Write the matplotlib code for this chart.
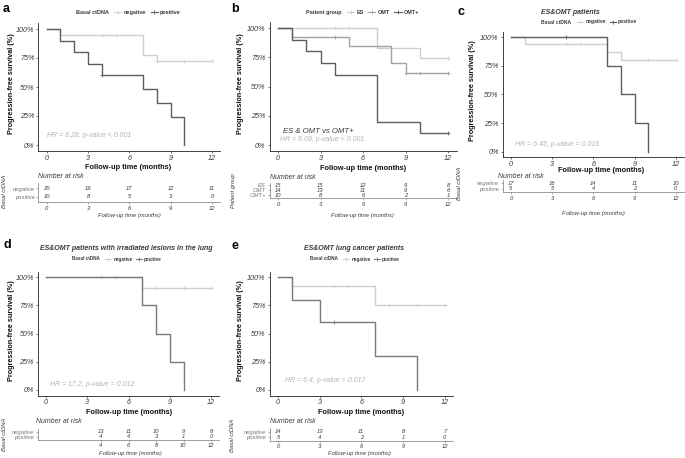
import matplotlib
matplotlib.use('Agg')
import matplotlib.pyplot as plt
from matplotlib.lines import Line2D
from matplotlib.text import Annotation

plt.rcParams['font.family'] = ['Liberation Sans', 'DejaVu Sans']

# ---- data ----
risk_times = [0, 3, 6, 9, 12]
risk_times_d = [4, 6, 8, 10, 12]

# a: all patients, basal ctDNA
a_neg_t = [0, 1, 7, 8, 12]
a_neg_s = [1.0, 0.95, 0.78, 0.724, 0.724]
a_neg_cens = [4, 5, 8, 10, 12]
a_pos_t = [0, 1, 2, 3, 4, 7, 8, 9, 10]
a_pos_s = [1.0, 0.9, 0.8, 0.7, 0.6, 0.48, 0.36, 0.24, 0.0]
a_pos_cens = [4]
a_risk_neg = [20, 19, 17, 12, 11]
a_risk_pos = [10, 8, 5, 3, 0]

# b: patient group
b_es_t = [0, 7, 10, 12]
b_es_s = [1.0, 0.83, 0.743, 0.743]
b_es_cens = [4, 5, 12]
b_omt_t = [0, 1, 5, 8, 9, 12]
b_omt_s = [1.0, 0.923, 0.849, 0.70, 0.62, 0.62]
b_omt_cens = [4, 9, 10, 12]
b_omtp_t = [0, 1, 2, 3, 4, 7, 10, 12]
b_omtp_s = [1.0, 0.9, 0.8, 0.7, 0.6, 0.2, 0.1, 0.1]
b_omtp_cens = [12]
b_risk_es = [15, 15, 12, 9, 8]
b_risk_omt = [14, 13, 11, 9, 6]
b_risk_omtp = [10, 8, 6, 2, 1]

# c: ES&OMT patients
c_neg_t = [0, 1, 7, 8, 12]
c_neg_s = [1.0, 0.942, 0.869, 0.80, 0.80]
c_neg_cens = [4, 5, 10, 12]
c_pos_t = [0, 7, 8, 9, 10]
c_pos_s = [1.0, 0.75, 0.5, 0.25, 0.0]
c_pos_cens = [4]
c_risk_neg = [17, 16, 14, 11, 10]
c_risk_pos = [5, 5, 4, 2, 0]

# d: ES&OMT, irradiated lung lesions
d_neg_t = [0, 7, 12]
d_neg_s = [1.0, 0.909, 0.909]
d_neg_cens = [4, 5, 8, 10, 12]
d_pos_t = [0, 7, 8, 9, 10]
d_pos_s = [1.0, 0.75, 0.5, 0.25, 0.0]
d_pos_cens = []
d_risk_neg = [13, 11, 10, 9, 8]
d_risk_pos = [4, 4, 3, 1, 0]

# e: ES&OMT lung cancer
e_neg_t = [0, 1, 7, 12]
e_neg_s = [1.0, 0.923, 0.752, 0.752]
e_neg_cens = [4, 5, 8, 10, 12]
e_pos_t = [0, 1, 3, 7, 10]
e_pos_s = [1.0, 0.8, 0.6, 0.3, 0.0]
e_pos_cens = [4]
e_risk_neg = [14, 13, 11, 8, 7]
e_risk_pos = [5, 4, 2, 1, 0]

NEG = '#cfcfcf'
POS = '#5e5e5e'
MID = '#a3a3a3'
TXT = '#3a3a3a'
HRC = '#b3b3b3'

W, H = 685, 458
fig = plt.figure(figsize=(W / 100, H / 100), dpi=100)


def axes_px(left, top, right, bottom):
    return fig.add_axes([left / W, 1 - bottom / H, (right - left) / W, (bottom - top) / H])


def ftext(x, y, s, **kw):
    kw.setdefault('color', TXT)
    return fig.text(x / W, 1 - y / H, s, **kw)


def km(ax, t, s, cens, color):
    ax.step(t, s, where='post', color=color, lw=1.0)
    cy = [s[max(i for i in range(len(t)) if t[i] <= c)] for c in cens]
    ax.plot(cens, cy, ls='none', marker='+', ms=3, mew=0.6, color=color)


def main_axes(box, xlab, ylab):
    ax = axes_px(*box)
    ax.set_xlim(-0.6, 12.6)
    ax.set_ylim(-0.05, 1.05)
    ax.set_xticks([0, 3, 6, 9, 12])
    ax.set_yticks([0, 0.25, 0.5, 0.75, 1.0])
    ax.set_yticklabels(['0%', '25%', '50%', '75%', '100%'])
    for sp in ['top', 'right']:
        ax.spines[sp].set_visible(False)
    for sp in ['left', 'bottom']:
        ax.spines[sp].set_color('#222222')
        ax.spines[sp].set_linewidth(0.6)
    ax.tick_params(length=1.5, width=0.5, labelsize=5.2, pad=1.3, colors=TXT)
    for lab in ax.get_xticklabels() + ax.get_yticklabels():
        lab.set_style('italic')
    ftext(xlab[0], xlab[1], 'Follow-up time (months)', fontsize=5.3,
          fontweight='bold', ha='center', va='center', color='#111111')
    ftext(ylab[0], ylab[1], 'Progression-free survival (%)', fontsize=5.2,
          fontweight='bold', ha='center', va='center', rotation=90, color='#111111')
    return ax


def risk_table(box, times, rows, names, colors, title_xy, ylab, ylab_xy, xlab_xy, xticks):
    ax = axes_px(*box)
    n = len(rows)
    ax.set_xlim(-0.6, 12.6)
    ax.set_ylim(0.4, n + 0.6)
    for k, vals in enumerate(rows):
        yk = n - k
        for t, v in zip(times, vals):
            ax.text(t, yk, str(v), ha='center', va='center', fontsize=4.2,
                    style='italic', color=TXT)
    ax.set_yticks([n - k for k in range(n)])
    ax.set_yticklabels(names)
    for lab, c in zip(ax.get_yticklabels(), colors):
        lab.set_color(c)
        lab.set_style('italic')
    ax.set_xticks(xticks)
    for sp in ['top', 'right']:
        ax.spines[sp].set_visible(False)
    for sp in ['left', 'bottom']:
        ax.spines[sp].set_color('#777777')
        ax.spines[sp].set_linewidth(0.5)
    ax.tick_params(length=1.5, width=0.4, labelsize=4.2, pad=1.2, colors='#777777')
    ax.tick_params(axis='x', labelcolor=TXT)
    for lab in ax.get_xticklabels():
        lab.set_style('italic')
    ftext(title_xy[0], title_xy[1], 'Number at risk', fontsize=5, style='italic',
          ha='left', va='center')
    ftext(ylab_xy[0], ylab_xy[1], ylab, fontsize=4.2, style='italic', rotation=90,
          ha='center', va='center')
    ftext(xlab_xy[0], xlab_xy[1], 'Follow-up time (months)', fontsize=4.2,
          style='italic', ha='center', va='center')
    return ax


def legend(cx, cy, title, labels, colors, fs):
    handles = [Line2D([0], [0], color=c, lw=0.8, marker='+', ms=3, mew=0.6)
               for c in colors]
    leg = fig.legend(handles, labels, loc='center', bbox_to_anchor=(cx / W, 1 - cy / H),
                     ncol=len(labels), frameon=False, fontsize=fs, handlelength=1.3,
                     handletextpad=0.4, columnspacing=0.8, borderpad=0, borderaxespad=0)
    for tx in leg.get_texts():
        tx.set_fontweight('bold')
        tx.set_color(TXT)
    ann = Annotation(title, xy=(0, 0.5), xycoords=leg, xytext=(-4, 0),
                     textcoords='offset points', fontsize=fs, fontweight='bold',
                     ha='right', va='center', color=TXT, annotation_clip=False)
    fig.add_artist(ann)
    return leg


# ---------------- panel a ----------------
ftext(3, 9, 'a', fontsize=9, fontweight='bold', ha='left', va='center', color='black')
legend(147.5, 12.3, 'Basal ctDNA', ['negative', 'positive'], [NEG, POS], 4)
ax = main_axes((38.4, 23.2, 220.3, 150.8), (128, 167.3), (12, 84))
km(ax, a_neg_t, a_neg_s, a_neg_cens, NEG)
km(ax, a_pos_t, a_pos_s, a_pos_cens, POS)
ax.text(0, 0.08, 'HR = 6.28, p-value < 0.001', fontsize=5, style='italic', color=HRC,
        ha='left', va='center')
risk_table((38.4, 183.4, 220.3, 202.1), risk_times, [a_risk_neg, a_risk_pos],
           ['negative', 'positive'], [NEG, POS], (38, 176), 'Basal ctDNA', (5, 191),
           (129, 216), risk_times)

# ---------------- panel b ----------------
ftext(231, 9, 'b', fontsize=9, fontweight='bold', ha='left', va='center', color='black')
legend(383, 12.3, 'Patient group', ['ES', 'OMT', 'OMT+'], [NEG, MID, POS], 4)
ax = main_axes((269.5, 22.2, 456.5, 150.9), (363, 168.3), (240, 84))
km(ax, b_es_t, b_es_s, b_es_cens, NEG)
km(ax, b_omt_t, b_omt_s, b_omt_cens, MID)
km(ax, b_omtp_t, b_omtp_s, b_omtp_cens, POS)
ax.text(2.87, 0.115, 'ES & OMT vs OMT+', fontsize=5.6, style='italic', color=TXT,
        ha='center', va='center')
ax.text(0.15, 0.05, 'HR = 6.09, p-value < 0.001', fontsize=5, style='italic', color=HRC,
        ha='left', va='center')
risk_table((269.5, 182.6, 456.5, 198.0), risk_times, [b_risk_es, b_risk_omt, b_risk_omtp],
           ['ES', 'OMT', 'OMT+'], [NEG, MID, POS], (270, 177.7), 'Patient group', (233, 191),
           (362, 215.7), risk_times)

# ---------------- panel c ----------------
ftext(458, 12, 'c', fontsize=9, fontweight='bold', ha='left', va='center', color='black')
ftext(570, 12, 'ES&OMT patients', fontsize=5, fontweight='bold', style='italic',
      ha='center', va='center')
legend(607, 22, 'Basal ctDNA', ['negative', 'positive'], [NEG, POS], 3.6)
ax = main_axes((502.7, 31.6, 684, 157.4), (601, 170.7), (472, 91))
km(ax, c_neg_t, c_neg_s, c_neg_cens, NEG)
km(ax, c_pos_t, c_pos_s, c_pos_cens, POS)
ax.text(0.3, 0.06, 'HR = 6.45, p-value = 0.016', fontsize=5, style='italic', color=HRC,
        ha='left', va='center')
risk_table((502.7, 180.2, 684, 192.0), risk_times, [c_risk_neg, c_risk_pos],
           ['negative', 'positive'], [NEG, POS], (498, 176.7), 'Basal ctDNA', (460, 183),
           (593, 214), risk_times)

# ---------------- panel d ----------------
ftext(3, 245, 'd', fontsize=9, fontweight='bold', ha='left', va='center', color='black')
ftext(126, 249, 'ES&OMT patients with irradiated lesions in the lung', fontsize=5,
      fontweight='bold', style='italic', ha='center', va='center')
legend(133.5, 259, 'Basal ctDNA', ['negative', 'positive'], [NEG, '#7a7a7a'], 3.3)
ax = main_axes((37.75, 271.7, 219.25, 395.6), (128.8, 412.3), (12, 331))
km(ax, d_neg_t, d_neg_s, d_neg_cens, NEG)
km(ax, d_pos_t, d_pos_s, d_pos_cens, '#7a7a7a')
ax.text(0.3, 0.05, 'HR = 17.2, p-value = 0.012', fontsize=5, style='italic', color=HRC,
        ha='left', va='center')
risk_table((37.75, 428.7, 219.25, 439.7), risk_times_d, [d_risk_neg, d_risk_pos],
           ['negative', 'positive'], [NEG, POS], (36, 421.7), 'Basal ctDNA', (5, 434),
           (130.5, 453.3), risk_times_d)

# ---------------- panel e ----------------
ftext(231, 246, 'e', fontsize=9, fontweight='bold', ha='left', va='center', color='black')
ftext(354, 249, 'ES&OMT lung cancer patients', fontsize=5,
      fontweight='bold', style='italic', ha='center', va='center')
legend(371.5, 259, 'Basal ctDNA', ['negative', 'positive'], [NEG, '#7a7a7a'], 3.3)
ax = main_axes((269.7, 271.7, 453, 395.6), (360.7, 412.3), (240, 331))
km(ax, e_neg_t, e_neg_s, e_neg_cens, NEG)
km(ax, e_pos_t, e_pos_s, e_pos_cens, '#7a7a7a')
ax.text(0.5, 0.08, 'HR = 6.4, p-value = 0.017', fontsize=5, style='italic', color=HRC,
        ha='left', va='center')
risk_table((269.7, 428.3, 453, 440.7), risk_times, [e_risk_neg, e_risk_pos],
           ['negative', 'positive'], [NEG, POS], (270, 421.7), 'Basal ctDNA', (233, 435),
           (359, 454), risk_times)

fig.savefig('out.png', dpi=100)
